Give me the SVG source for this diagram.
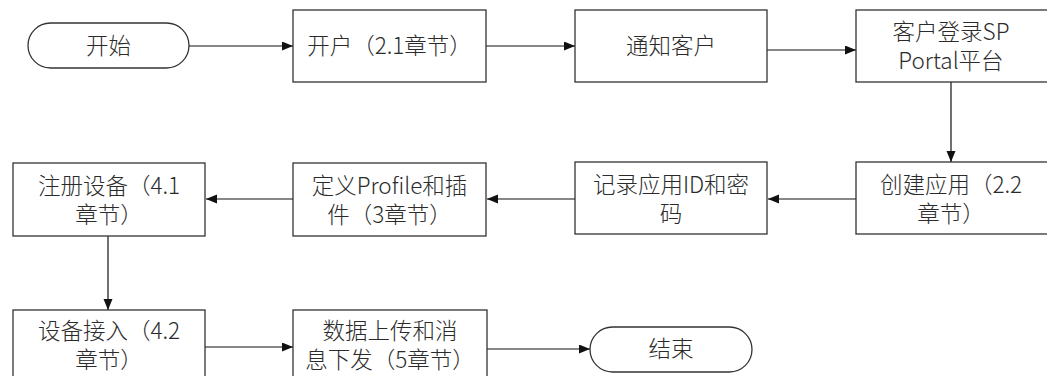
<svg xmlns="http://www.w3.org/2000/svg" width="1047" height="376" viewBox="0 0 1047 376">
<style>
.box{fill:#fff;stroke:#333;stroke-width:1.3}
.t{font-family:"Noto Sans CJK SC","Liberation Sans",sans-serif;font-size:22.5px;font-weight:300;fill:#2b2b2b;text-anchor:middle}
.c{fill:none;stroke:#111;stroke-width:1.2;marker-end:url(#ah)}
</style>
<defs>
<marker id="ah" markerUnits="userSpaceOnUse" markerWidth="12" markerHeight="10" refX="11" refY="4.5" orient="auto">
<path d="M0,0 L11,4.5 L0,9 z" fill="#111"/>
</marker>
</defs>
<rect width="1047" height="376" fill="#fff"/>
<g id="connectors">
<line class="c" x1="189" y1="46" x2="293" y2="46"/>
<line class="c" x1="486" y1="46" x2="575" y2="46"/>
<line class="c" x1="767" y1="50" x2="856" y2="50"/>
<line class="c" x1="951" y1="82" x2="951" y2="162"/>
<line class="c" x1="858" y1="199" x2="768" y2="199"/>
<line class="c" x1="575" y1="199" x2="487" y2="199"/>
<line class="c" x1="293" y1="199" x2="206" y2="199"/>
<line class="c" x1="108" y1="236" x2="108" y2="310"/>
<line class="c" x1="205" y1="347" x2="293" y2="347"/>
<line class="c" x1="487" y1="349" x2="590" y2="349"/>
</g>
<g id="start">
<rect class="box" x="28" y="23" width="161" height="45" rx="22.5"/>
<text class="t" x="108.5" y="54">开始</text>
</g>
<g id="open-account">
<rect class="box" x="293" y="10" width="193" height="72"/>
<text class="t" x="389.5" y="54">开户（2.1章节）</text>
</g>
<g id="notify">
<rect class="box" x="575" y="10" width="192" height="72"/>
<text class="t" x="671" y="54">通知客户</text>
</g>
<g id="login">
<rect class="box" x="856" y="10" width="194" height="72"/>
<text class="t" x="951" y="40">客户登录SP</text>
<text class="t" x="951" y="69">Portal平台</text>
</g>
<g id="create-app">
<rect class="box" x="856" y="162" width="194" height="72"/>
<text class="t" x="951" y="193">创建应用（2.2</text>
<text class="t" x="951" y="222">章节）</text>
</g>
<g id="record-id">
<rect class="box" x="575" y="162" width="192" height="72"/>
<text class="t" x="671" y="193">记录应用ID和密</text>
<text class="t" x="671" y="222">码</text>
</g>
<g id="define-profile">
<rect class="box" x="293" y="163" width="193" height="73"/>
<text class="t" x="389.5" y="194">定义Profile和插</text>
<text class="t" x="389.5" y="223">件（3章节）</text>
</g>
<g id="register-device">
<rect class="box" x="13" y="163" width="192" height="73"/>
<text class="t" x="109" y="194">注册设备（4.1</text>
<text class="t" x="109" y="223">章节）</text>
</g>
<g id="device-access">
<rect class="box" x="13" y="310" width="192" height="72"/>
<text class="t" x="109" y="339">设备接入（4.2</text>
<text class="t" x="109" y="368">章节）</text>
</g>
<g id="data-upload">
<rect class="box" x="293" y="310" width="194" height="72"/>
<text class="t" x="390" y="339">数据上传和消</text>
<text class="t" x="390" y="368">息下发（5章节）</text>
</g>
<g id="end">
<rect class="box" x="590" y="327" width="162" height="45" rx="22.5"/>
<text class="t" x="671" y="357">结束</text>
</g>
</svg>
